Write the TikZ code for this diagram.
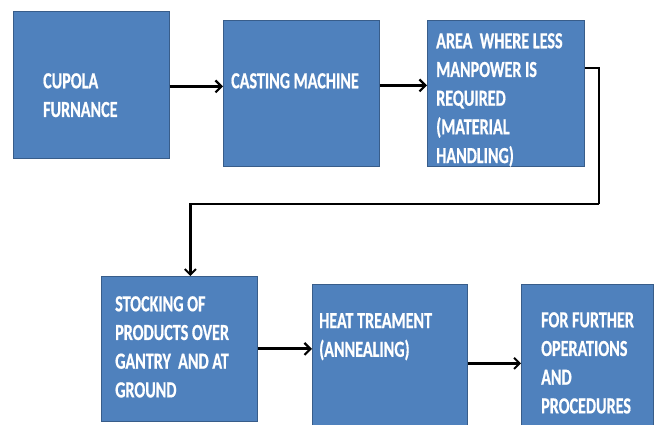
\documentclass[tikz,border=0pt]{standalone}
\usepackage{fontspec}
\usepackage{xcolor}
\usepackage{tikz}
\usetikzlibrary{arrows,arrows.meta,positioning}
\newfontfamily\boxfont[FakeStretch=0.7,FakeBold=0.6]{Carlito Bold}
\definecolor{blkfill}{RGB}{79,129,189}
\definecolor{blkline}{RGB}{56,93,138}

\begin{document}
\begin{tikzpicture}[x=1pt, y=-1pt,
		blk/.style={draw=blkline, fill=blkfill, line width=0.8pt, anchor=north west, inner sep=0pt},
		blktext/.style={anchor=north west, inner sep=0pt, align=left, text=white, font=\boxfont\fontsize{23}{28.7}\selectfont},
		flow/.style={-{Straight Barb[length=6pt,width=12pt,line width=2.2pt]}, line width=3pt},
		thinflow/.style={-{Straight Barb[length=5.5pt,width=11pt,line width=2pt]}, line width=2.2pt}]
				\useasboundingbox (0,0) rectangle (658,425);

				\node[blk, minimum width=156pt, minimum height=147pt] (cupola) at (13,11) {};
				\node[blk, minimum width=156pt, minimum height=146pt] (casting) at (223,20) {};
				\node[blk, minimum width=157pt, minimum height=146pt] (area) at (427,20) {};
				\node[blk, minimum width=156pt, minimum height=145pt] (stock) at (101,276) {};
				\node[blk, minimum width=155pt, minimum height=150pt] (heat) at (312,284) {};
				\node[blk, minimum width=132pt, minimum height=150pt] (further) at (521,284) {};

				\node[blktext] (cupola-txt) at (43,73) {CUPOLA\\FURNANCE};
				\node[blktext] (casting-txt) at (231,73) {CASTING MACHINE};
				\node[blktext] (area-txt) at (436,33) {AREA\ \ WHERE LESS\\MANPOWER IS\\REQUIRED\\(MATERIAL\\HANDLING)};
				\node[blktext] (stock-txt) at (115,296) {STOCKING OF\\PRODUCTS OVER\\GANTRY\ \ AND AT\\GROUND};
				\node[blktext] (heat-txt) at (319,313) {HEAT TREAMENT\\(ANNEALING)};
				\node[blktext] (further-txt) at (541,312) {FOR FURTHER\\OPERATIONS\\AND\\PROCEDURES};

				\draw[flow] ([yshift=-1.5pt]cupola.east) -- ([yshift=-1.5pt]cupola.east -| casting.west);
				\draw[flow] ([yshift=8pt]casting.east) -- ([yshift=8pt]area.west);
				\coordinate (bend) at (599,204);
				\draw[line width=2pt] ([yshift=25pt]area.east) -| (bend);
				\draw[thinflow] (bend) -| ([xshift=11pt]stock.north);
				\draw[flow] (stock.east) -- (stock.east -| heat.west);
				\draw[thinflow] ([yshift=-4pt]heat.east) -- ([yshift=-4pt]heat.east -| further.west);

			\end{tikzpicture}
\end{document}
